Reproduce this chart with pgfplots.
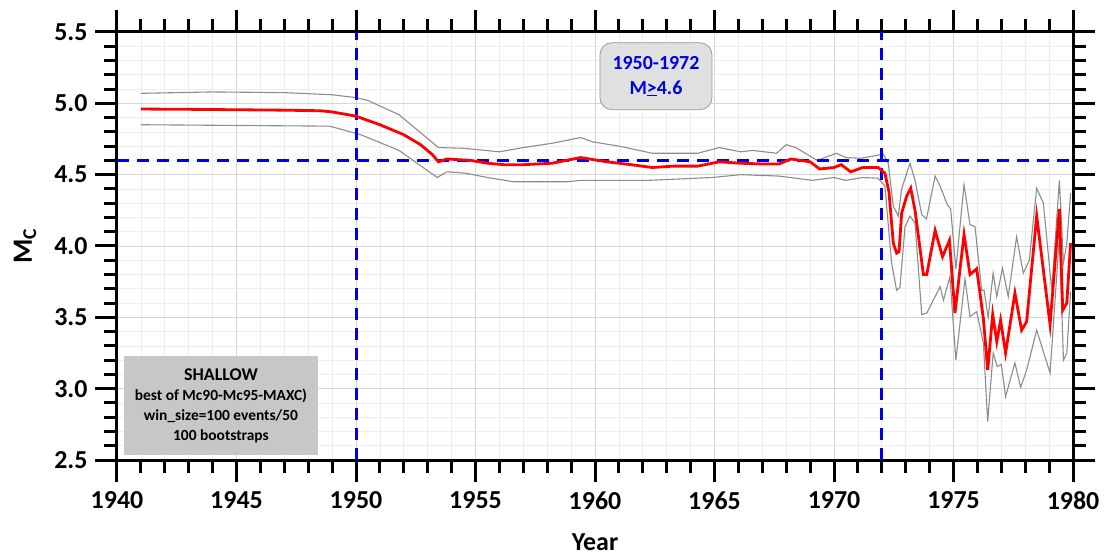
\documentclass[border=0pt]{standalone}
\usepackage{pgfplots}
\pgfplotsset{compat=1.18}
\usepackage{fontspec}
\setmainfont{Carlito}

% Completeness magnitude (best of Mc90/Mc95/MAXC), shallow events
\pgfplotstableread{
year mc
1941 4.96
1943 4.958
1945 4.955
1947 4.952
1948.5 4.948
1949 4.94
1950 4.91
1951 4.85
1952 4.78
1952.7 4.71
1953.2 4.64
1953.45 4.59
1953.8 4.61
1954.8 4.60
1955.5 4.58
1956.2 4.57
1957 4.57
1958.2 4.58
1959.4 4.62
1960.5 4.59
1961.5 4.57
1962.4 4.55
1963.3 4.56
1964.3 4.56
1965.2 4.59
1966.1 4.58
1967.0 4.575
1967.7 4.575
1968.2 4.61
1969.0 4.59
1969.4 4.54
1970.0 4.55
1970.3 4.57
1970.7 4.52
1971.2 4.55
1971.85 4.55
1972.13 4.51
1972.3 4.38
1972.48 4.02
1972.62 3.95
1972.72 3.96
1972.83 4.23
1973.04 4.35
1973.21 4.405
1973.39 4.25
1973.74 3.80
1973.88 3.80
1974.23 4.11
1974.54 3.925
1974.83 4.04
1975.06 3.53
1975.44 4.08
1975.69 3.80
1975.97 3.84
1976.25 3.49
1976.43 3.13
1976.64 3.52
1976.81 3.33
1976.97 3.48
1977.18 3.25
1977.57 3.67
1977.85 3.41
1978.06 3.47
1978.48 4.21
1979.04 3.45
1979.43 4.26
1979.57 3.55
1979.74 3.60
1979.9 4.02
}\mcbest

% upper bound of the bootstrap spread
\pgfplotstableread{
year mc
1941 5.07
1944 5.08
1947 5.075
1949 5.06
1950 5.04
1950.5 5.02
1951.8 4.92
1953.45 4.69
1954.5 4.685
1956.0 4.66
1957 4.69
1958.2 4.72
1959.4 4.76
1959.9 4.73
1961 4.70
1962.4 4.65
1964.3 4.65
1965.2 4.69
1966.1 4.66
1966.6 4.67
1967.6 4.65
1968.0 4.71
1968.4 4.69
1969.3 4.60
1970.1 4.65
1970.5 4.62
1971.1 4.615
1971.65 4.63
1972.06 4.645
1972.27 4.58
1972.48 4.28
1972.69 4.21
1972.83 4.40
1973.18 4.58
1973.39 4.46
1973.67 4.22
1973.87 4.19
1974.23 4.49
1974.44 4.42
1974.74 4.29
1974.88 4.26
1975.1 3.84
1975.44 4.43
1975.69 4.15
1975.9 4.135
1976.18 3.69
1976.28 3.69
1976.45 3.50
1976.66 3.81
1976.81 3.645
1977.05 3.845
1977.29 3.645
1977.64 4.065
1977.92 3.81
1978.17 3.90
1978.48 4.405
1978.76 4.30
1979.11 3.69
1979.43 4.46
1979.6 3.88
1979.74 4.02
1979.9 4.37
}\mcupper

% lower bound of the bootstrap spread
\pgfplotstableread{
year mc
1941 4.85
1945 4.845
1948.9 4.84
1950.2 4.78
1951.8 4.67
1953.4 4.48
1953.8 4.52
1954.6 4.51
1955.5 4.48
1956.6 4.45
1958.8 4.45
1959.4 4.46
1962.2 4.46
1964.9 4.48
1966.1 4.50
1967.7 4.49
1969.1 4.46
1970 4.48
1970.5 4.46
1971.2 4.48
1971.85 4.475
1972.13 4.42
1972.41 3.88
1972.62 3.69
1972.76 3.71
1972.97 4.135
1973.18 4.21
1973.39 4.16
1973.67 3.52
1973.88 3.53
1974.44 3.715
1974.58 3.62
1974.85 3.785
1975.1 3.20
1975.48 3.77
1975.69 3.505
1975.97 3.54
1976.25 3.32
1976.43 2.77
1976.66 3.25
1976.83 3.155
1977.0 3.17
1977.18 2.945
1977.57 3.18
1977.81 3.01
1978.06 3.13
1978.48 3.41
1979.04 3.11
1979.43 4.065
1979.6 3.20
1979.74 3.25
1979.9 3.68
}\mclower

\begin{document}
\begin{tikzpicture}
\begin{axis}[
  scale only axis, width=956bp, height=428bp,
  xmin=1940, xmax=1980, ymin=2.5, ymax=5.5,
  clip=false,
  xtick={1940,1945,...,1980},
  ytick={2.5,3,3.5,4,4.5,5,5.5},
  minor x tick num=4, minor y tick num=4,
  tick align=outside,
  major tick length=22bp, minor tick length=13bp,
  every tick/.append style={black, line width=3bp},
  separate axis lines,
  every outer x axis line/.append style={black, line width=3bp},
  every outer y axis line/.append style={black, line width=3bp},
  grid=both,
  major grid style={black!16, line width=0.9bp},
  minor grid style={black!7, line width=0.7bp},
  xticklabel style={font=\fontsize{26}{30}\selectfont\bfseries,
    /pgf/number format/assume math mode=true, /pgf/number format/1000 sep={}, yshift=-6bp},
  yticklabel style={font=\fontsize{26}{30}\selectfont\bfseries,
    /pgf/number format/assume math mode=true, /pgf/number format/fixed,
    /pgf/number format/fixed zerofill, /pgf/number format/precision=1, xshift=-4bp},
  xlabel={Year},
  xlabel style={font=\fontsize{26}{30}\selectfont\bfseries, at={(rel axis cs:0.5,0)}, anchor=center, yshift=-82bp},
  ylabel={M\textsubscript{C}},
  ylabel style={font=\fontsize{28}{32}\selectfont\bfseries, at={(rel axis cs:0,0.5)}, anchor=center, yshift=92bp},
]
% bootstrap spread
\addplot[black!45, line width=1.1bp] table[x=year, y=mc] {\mcupper};
\addplot[black!45, line width=1.1bp] table[x=year, y=mc] {\mclower};
% reference lines
\addplot[blue!90!black, line width=3bp, dash pattern=on 12bp off 8bp] coordinates {(1940,4.6) (1980,4.6)};
\addplot[blue!90!black, line width=3bp, dash pattern=on 12bp off 8bp] coordinates {(1950,2.5) (1950,5.5)};
\addplot[blue!90!black, line width=3bp, dash pattern=on 12bp off 8bp] coordinates {(1972,2.5) (1972,5.5)};
% best estimate
\addplot[red, line width=2.8bp] table[x=year, y=mc] {\mcbest};
% anchor points for the annotation boxes
\coordinate (periodbox) at (axis cs:1962.55,5.19);
\coordinate (infobox) at (axis cs:1944.35,2.882);
\end{axis}
\node[rounded corners=12bp, fill=black!12, draw=black!40, line width=0.8bp,
      minimum width=112bp, minimum height=67bp, align=center,
      text=blue!90!black, font=\fontsize{20}{24}\selectfont\bfseries]
  at (periodbox) {1950-1972\\[1bp] M\underline{>}4.6};
\node[fill=black!22, minimum width=194bp, minimum height=99bp, align=center,
      font=\fontsize{15.5}{20}\selectfont\bfseries]
  at (infobox) {{\fontsize{18}{20}\selectfont SHALLOW}\\best of Mc90-Mc95-MAXC)\\win\_size=100 events/50\\100 bootstraps};
% page margins around the axis
\path (-117bp,-96bp) (998bp,460bp);
\end{tikzpicture}
\end{document}
